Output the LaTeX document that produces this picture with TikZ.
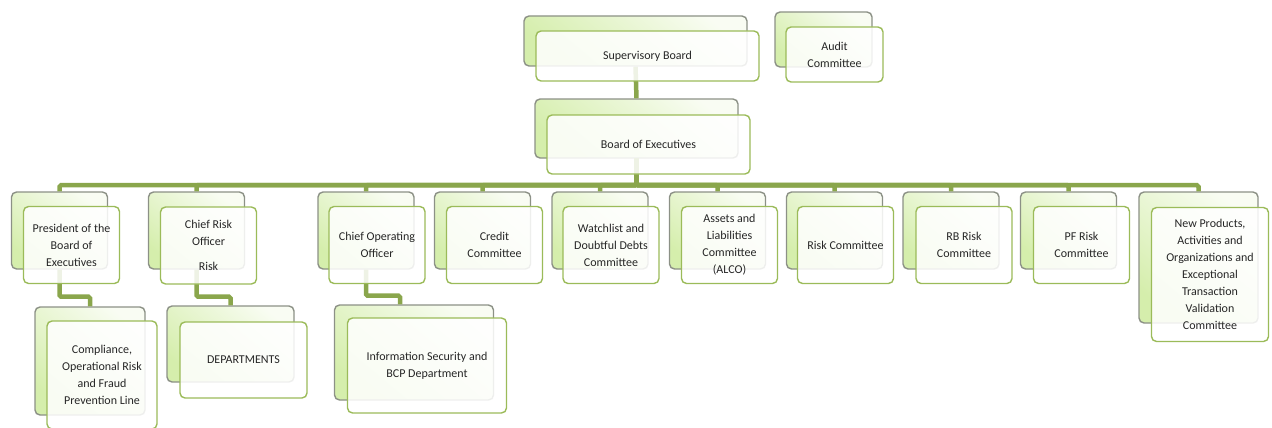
\documentclass[tikz,border=0pt]{standalone}
\usepackage{fontspec}
\setmainfont{Carlito}
\usepackage{tikz}
\usetikzlibrary{positioning}

\definecolor{leaf}{HTML}{9BBB59}
\definecolor{stem}{HTML}{8AA64C}
\definecolor{rim}{HTML}{8C9186}
\definecolor{moss}{HTML}{D5EEAC}

\begin{document}
\begin{tikzpicture}[x=1pt,y=-1pt,on grid,font=\fontsize{12}{17}\selectfont]
  \tikzstyle{back}=[draw=rim,line width=1.4pt,rounded corners=5pt,top color=moss!15!white,bottom color=moss,shading angle=-40,inner sep=0pt]
  \tikzstyle{front}=[draw=leaf,line width=1.4pt,rounded corners=5pt,fill=white,fill opacity=0.86,text opacity=1,text=black!85,align=center,inner sep=0pt]
  \tikzstyle{row}=[minimum width=96pt,minimum height=77pt]
  \tikzstyle{link}=[draw=stem,line width=4.5pt,rounded corners=1.5pt]
  \useasboundingbox (0,0) rectangle (1272,428);
  % back boxes
  \node[back,minimum width=223pt,minimum height=50pt] (sup) at (635.5,41) {};
  \node[back,minimum width=97pt,minimum height=55pt] (audit) at (823.5,39.5) {};
  \node[back,minimum width=203pt,minimum height=59pt] (board) at (636.5,128.5) {};
  \node[back,row] (pres) at (59.5,230.5) {};
  \node[back,row] (cro) [right=137pt of pres] {};
  \node[back,row] (coo) [right=169.5pt of cro] {};
  \node[back,row] (credit) [right=116.5pt of coo] {};
  \node[back,row] (watch) [right=117.5pt of credit] {};
  \node[back,row] (alco) [right=117.5pt of watch] {};
  \node[back,row] (risk) [right=117pt of alco] {};
  \node[back,row] (rb) [right=116.5pt of risk] {};
  \node[back,row] (pf) [right=117.5pt of rb] {};
  \node[back,minimum width=119pt,minimum height=131pt] (npc) at (1198.5,257.5) {};
  \node[back,minimum width=110pt,minimum height=108pt] (comp) at (90,361) {};
  \node[back,minimum width=127pt,minimum height=76pt] (dept) at (230.5,344) {};
  \node[back,minimum width=159pt,minimum height=95pt] (infosec) at (414,352.5) {};
  % connectors
  \path[link] (sup.south) -- (board.north);
  \foreach \n in {pres,cro,coo,credit,watch,alco,risk,rb,pf,npc}
    \path[link] (board.south) -- ++(0,26.5) -| (\n.north);
  \path[link] (pres.south) -- ++(0,27) -| (comp.north);
  \path[link] (cro.south) -- ++(0,27) -| (dept.north);
  \path[link] (coo.south) -- ++(0,26) -| ([xshift=-14pt]infosec.north);
  % front boxes
  \node[front,minimum width=223pt,minimum height=50pt] (sup_t) [below right=15pt and 12pt of sup] {Supervisory Board};
  \node[front,minimum width=97pt,minimum height=55pt] (audit_t) [below right=15pt and 11pt of audit] {Audit\\Committee};
  \node[front,minimum width=203pt,minimum height=59pt] (board_t) [below right=16pt and 12pt of board] {Board of Executives};
  \node[front,row] (pres_t) [below right=14.5pt and 12pt of pres] {President of the\\Board of\\Executives};
  \node[front,row] (cro_t) [below right=15pt and 12pt of cro] {Chief Risk\\Officer\\[8pt]Risk};
  \node[front,row] (coo_t) [below right=14.5pt and 11pt of coo] {Chief Operating\\Officer};
  \node[front,row] (credit_t) [below right=14.5pt and 12pt of credit] {Credit\\Committee};
  \node[front,row] (watch_t) [below right=14.5pt and 11pt of watch] {Watchlist and\\Doubtful Debts\\Committee};
  \node[front,row] (alco_t) [below right=14.5pt and 12pt of alco] {Assets and\\Liabilities\\Committee\\(ALCO)};
  \node[front,row] (risk_t) [below right=14.5pt and 11pt of risk] {Risk Committee};
  \node[front,row] (rb_t) [below right=14.5pt and 13pt of rb] {RB Risk\\Committee};
  \node[front,row] (pf_t) [below right=14.5pt and 13pt of pf] {PF Risk\\Committee};
  \node[front,minimum width=117pt,minimum height=134pt] (npc_t) [below right=17pt and 11.5pt of npc] {New Products,\\Activities and\\Organizations and\\Exceptional\\Transaction\\Validation\\Committee};
  \node[front,minimum width=110pt,minimum height=108pt] (comp_t) [below right=14pt and 12pt of comp] {Compliance,\\Operational Risk\\and Fraud\\Prevention Line};
  \node[front,minimum width=127pt,minimum height=76pt] (dept_t) [below right=16pt and 13pt of dept] {DEPARTMENTS};
  \node[front,minimum width=159pt,minimum height=95pt] (infosec_t) [below right=13pt and 13pt of infosec] {Information Security and\\BCP Department};
\end{tikzpicture}
\end{document}
